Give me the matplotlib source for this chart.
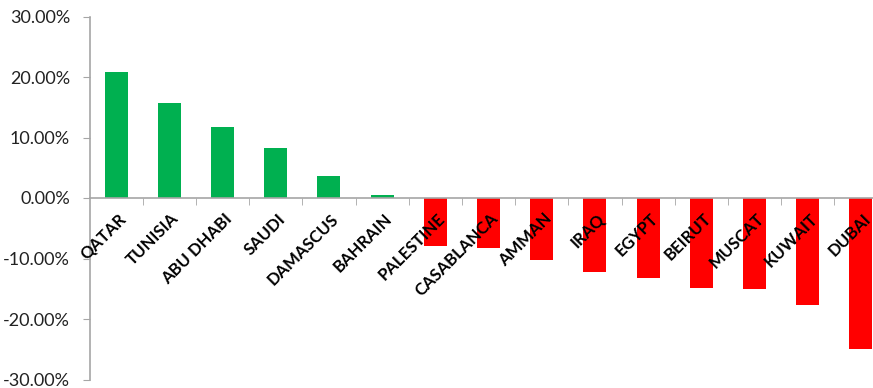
import matplotlib.pyplot as plt
import matplotlib.transforms as mtransforms
import numpy as np
from matplotlib.ticker import FuncFormatter, FixedLocator

cities = ['QATAR', 'TUNISIA', 'ABU DHABI', 'SAUDI', 'DAMASCUS', 'BAHRAIN', 'PALESTINE',
          'CASABLANCA', 'AMMAN', 'IRAQ', 'EGYPT', 'BEIRUT', 'MUSCAT', 'KUWAIT', 'DUBAI']
changes = [20.9, 15.75, 11.8, 8.3, 3.6, 0.5, -8.0,
           -8.2, -10.3, -12.3, -13.2, -14.9, -15.1, -17.7, -25.0]

plt.rcParams['font.family'] = ['Lato', 'DejaVu Sans']

fig = plt.figure(figsize=(8.73, 3.88), dpi=100)
# right edge of the plot runs past the image, like the original crop
ax = fig.add_axes([89.5 / 873, 1 - 379.5 / 388, 798 / 873, 363 / 388])
ax.set_axisbelow(False)

x = np.arange(len(cities))
colors = ['#00b050' if v >= 0 else '#ff0000' for v in changes]
ax.bar(x, changes, width=0.43, color=colors, zorder=1)

ax.set_xlim(-0.5, len(cities) - 0.5)
ax.set_ylim(-30, 30)
ax.set_yticks([-30, -20, -10, 0, 10, 20, 30])
ax.yaxis.set_major_formatter(FuncFormatter(lambda v, p: '%.2f%%' % v))

grey = '#a6a6a6'
for s in ['top', 'right']:
    ax.spines[s].set_visible(False)
ax.spines['bottom'].set_position(('data', 0))
ax.spines['bottom'].set_color(grey)
ax.spines['left'].set_color(grey)
ax.spines['bottom'].set_linewidth(1.2)
ax.spines['left'].set_linewidth(1.2)

ax.tick_params(axis='y', direction='out', length=5, color=grey, labelsize=13, pad=9,
               labelcolor='#222222')
ax.set_xticks(x)
ax.set_xticklabels(cities, rotation=45, ha='right', rotation_mode='anchor',
                   fontweight='bold', fontsize=12)
ax.tick_params(axis='x', which='major', length=0, pad=3)
ax.xaxis.set_minor_locator(FixedLocator(np.arange(0.5, len(cities), 1)))
ax.tick_params(axis='x', which='minor', direction='out', length=5, color=grey)

# shift the rotated labels so their end sits under the bar
offset = mtransforms.ScaledTranslation(1 / 72, -6 / 72, fig.dpi_scale_trans)
for lab in ax.get_xticklabels():
    lab.set_transform(lab.get_transform() + offset)

plt.savefig('out.png', dpi=100)
